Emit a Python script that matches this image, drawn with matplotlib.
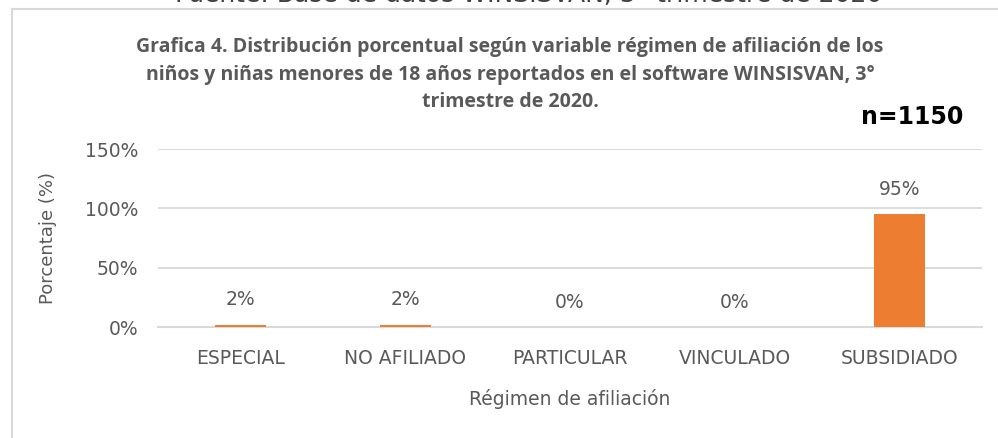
import matplotlib.pyplot as plt
from matplotlib.lines import Line2D

categorias = ['ESPECIAL', 'NO AFILIADO', 'PARTICULAR', 'VINCULADO', 'SUBSIDIADO']
porcentajes = [2, 2, 0, 0, 95]
etiquetas = ['2%', '2%', '0%', '0%', '95%']
yticks = [0, 50, 100, 150]

gris = '#595959'
naranja = '#ED7D31'

fig = plt.figure(figsize=(9.98, 4.38), dpi=100)
ax = fig.add_axes([0.1583, 0.2534, 0.8257, 0.4064])

x = range(len(categorias))
ax.bar(x, porcentajes, width=0.31, color=naranja, zorder=3)
for xi, v, lab in zip(x, porcentajes, etiquetas):
    ax.annotate(lab, (xi, v), xytext=(0, 18), textcoords='offset points',
                ha='center', va='center', fontsize=13.5, color=gris)

ax.set_xlim(-0.5, len(categorias) - 0.5)
ax.set_ylim(0, 150)
ax.set_yticks(yticks)
ax.set_yticklabels([f'{t}%' for t in yticks])
ax.set_xticks(list(x))
ax.set_xticklabels(categorias)
ax.tick_params(axis='both', length=0, labelsize=13.5, labelcolor=gris)
ax.tick_params(axis='x', pad=16)
ax.tick_params(axis='y', pad=14)
ax.grid(axis='y', color='#d9d9d9', linewidth=1.3, zorder=0)
for s in ['top', 'right', 'left']:
    ax.spines[s].set_visible(False)
ax.spines['bottom'].set_color('#d9d9d9')
ax.spines['bottom'].set_linewidth(1.5)

ax.set_xlabel('Régimen de afiliación', fontsize=13.5, color=gris, labelpad=15)
ax.set_ylabel('Porcentaje (%)', fontsize=13, color=gris, labelpad=20)

fig.text(0.511, 0.829,
         'Grafica 4. Distribución porcentual según variable régimen de afiliación de los\n'
         'niños y niñas menores de 18 años reportados en el software WINSISVAN, 3°\n'
         'trimestre de 2020.',
         ha='center', va='center', fontsize=14, fontweight='bold', color=gris,
         family='Open Sans', linespacing=1.5)
fig.text(0.914, 0.733, 'n=1150', ha='center', va='center', fontsize=17,
         fontweight='bold', color='black')

# texto recortado arriba y marco del grafico
fig.text(0.53, 1.0125, 'Fuente: Base de datos WINSISVAN, 3° trimestre de 2020',
         ha='center', va='center', fontsize=18, color='#404040')
fig.add_artist(Line2D([0.012, 0.012], [0, 0.98], transform=fig.transFigure,
                      color='#d9d9d9', linewidth=1.5))
fig.add_artist(Line2D([0.012, 1.0], [0.98, 0.98], transform=fig.transFigure,
                      color='#d9d9d9', linewidth=1.5))

fig.savefig('out.png', dpi=100)
